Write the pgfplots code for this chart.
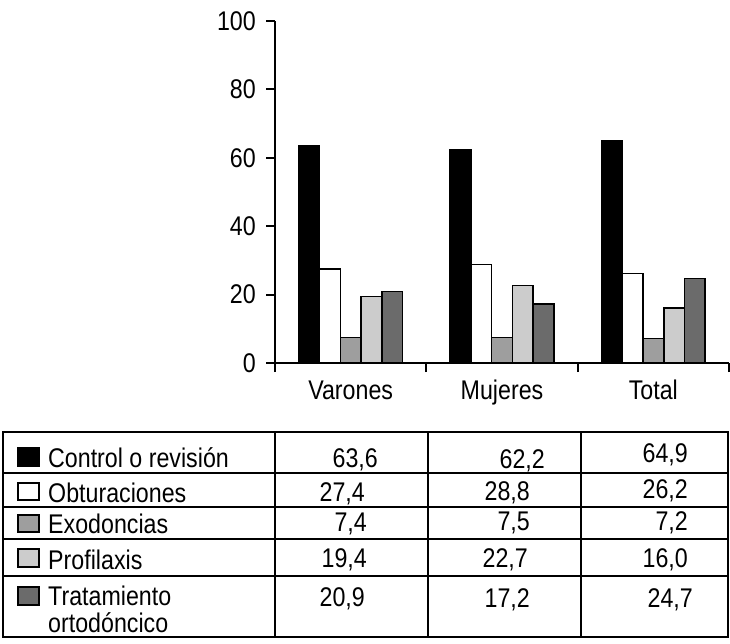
\documentclass[border=0pt]{standalone}
\usepackage{pgfplots}
\pgfplotsset{compat=1.18}
\usepackage{fontspec}
\setmainfont[FakeStretch=0.86]{Liberation Sans}
\definecolor{exo}{gray}{0.62}
\definecolor{pro}{gray}{0.80}
\definecolor{tra}{gray}{0.42}
\newcommand{\bigf}{\fontsize{27}{31}\selectfont}
\begin{document}
\bigf
\begin{tikzpicture}[x=1pt,y=1pt,font=\bigf]
\useasboundingbox (0,0) rectangle (730,-644);
\begin{axis}[
  at={(275pt,-363pt)}, anchor=south west,
  scale only axis, width=454pt, height=342pt,
  xmin=-0.5, xmax=2.5, ymin=0, ymax=100,
  axis x line=bottom, axis y line=left,
  axis line style={line width=1.8pt,-},
  ytick={0,20,...,100},
  xtick={-0.5,0.5,1.5,2.5}, xticklabels={},
  extra x ticks={0,1,2},
  extra x tick labels={Varones,Mujeres,Total},
  extra x tick style={major tick length=0pt, xticklabel style={text height=19.5pt, text depth=6pt, yshift=-8pt}},
  tick align=outside,
  major tick length=9pt,
  tick style={line width=1.8pt, black},
  tick label style={font=\bigf},
  yticklabel style={xshift=-1pt},
  /pgf/number format/assume math mode=true,
  ybar=0pt, bar width=0.137,
  every axis plot/.append style={draw=black, line width=1.6pt},
  clip=false,
]
\addplot[fill=black] coordinates {(0,63.6) (1,62.2) (2,64.9)};
\addplot[fill=white] coordinates {(0,27.4) (1,28.8) (2,26.2)};
\addplot[fill=exo] coordinates {(0,7.4) (1,7.5) (2,7.2)};
\addplot[fill=pro] coordinates {(0,19.4) (1,22.7) (2,16.0)};
\addplot[fill=tra] coordinates {(0,20.9) (1,17.2) (2,24.7)};
\end{axis}
% table
\draw[line width=1.8pt] (3,-432) rectangle (728,-637);
\foreach \x in {275,428,581} \draw[line width=1.8pt] (\x,-432) -- (\x,-637);
\foreach \y in {473,507,539,576} \draw[line width=1.8pt] (3,-\y) -- (728,-\y);
% swatches
\filldraw[draw=black, line width=1.4pt, fill=black] (18,-448) rectangle (39,-466);
\filldraw[draw=black, line width=1.4pt, fill=white] (18,-483) rectangle (39,-500);
\filldraw[draw=black, line width=1.4pt, fill=exo] (18,-515) rectangle (39,-532);
\filldraw[draw=black, line width=1.4pt, fill=pro] (18,-549) rectangle (39,-567);
\filldraw[draw=black, line width=1.4pt, fill=tra] (18,-587) rectangle (39,-605);
\begin{scope}[every node/.style={inner sep=0pt}]
\node[anchor=base west] at (48,-467) {Control o revisión};
\node[anchor=base west] at (48,-502) {Obturaciones};
\node[anchor=base west] at (48,-533) {Exodoncias};
\node[anchor=base west] at (48,-569) {Profilaxis};
\node[anchor=base west] at (48,-605) {Tratamiento};
\node[anchor=base west] at (48,-632) {ortodóncico};
\node[anchor=base east] at (378,-467) {63,6};
\node[anchor=base east] at (365,-501) {27,4};
\node[anchor=base east] at (367,-531) {7,4};
\node[anchor=base east] at (367,-567) {19,4};
\node[anchor=base east] at (365,-606) {20,9};
\node[anchor=base east] at (545,-468) {62,2};
\node[anchor=base east] at (530,-500) {28,8};
\node[anchor=base east] at (530,-530) {7,5};
\node[anchor=base east] at (528,-567) {22,7};
\node[anchor=base east] at (530,-607) {17,2};
\node[anchor=base east] at (688,-462) {64,9};
\node[anchor=base east] at (688,-498) {26,2};
\node[anchor=base east] at (688,-530) {7,2};
\node[anchor=base east] at (688,-567) {16,0};
\node[anchor=base east] at (693,-607) {24,7};
\end{scope}
\end{tikzpicture}
\end{document}
